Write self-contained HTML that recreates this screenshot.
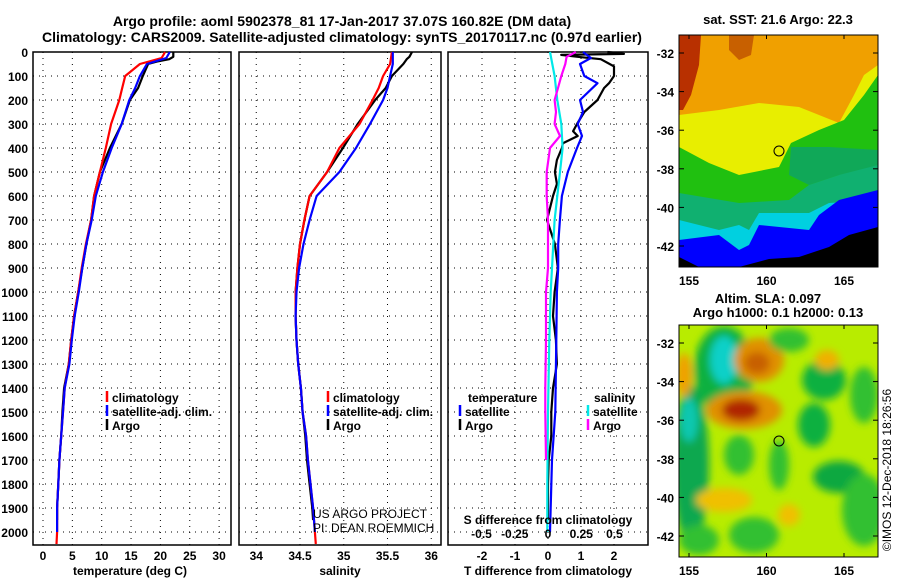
<!DOCTYPE html>
<html><head><meta charset="utf-8"><style>
html,body{margin:0;padding:0;background:#fff;}
svg{display:block;font-family:"Liberation Sans",Arial,sans-serif;}
.b{font-weight:bold;}
</style></head><body>
<svg id="c" width="900" height="580" viewBox="0 0 900 580">
<defs><filter id="bl" x="-50%" y="-50%" width="200%" height="200%"><feGaussianBlur stdDeviation="4"/></filter>
<clipPath id="m1c"><rect x="0" y="0" width="199" height="232"/></clipPath>
<clipPath id="m2c"><rect x="0" y="0" width="199" height="232"/></clipPath></defs>
<text class="b" x="342" y="26" font-size="14" text-anchor="middle">Argo profile: aoml 5902378_81 17-Jan-2017 37.07S 160.82E (DM data)</text>
<text class="b" x="342" y="42" font-size="14" text-anchor="middle">Climatology: CARS2009. Satellite-adjusted climatology: synTS_20170117.nc (0.97d earlier)</text>
<g id="p1"></g>
<g id="p2"></g>
<g id="p3"></g>
<g id="map1" transform="translate(679,35)">
 <g clip-path="url(#m1c)">
 <rect width="199" height="232" fill="#f0a000"/>
 <path d="M0,0 L22,0 L20,30 L12,60 L4,75 L0,75Z" fill="#b83000"/>
 <path d="M50,0 L75,0 L72,20 L60,25 L50,15Z" fill="#c86000"/>
 <path d="M0,80 L40,75 L80,68 L120,72 L160,88 L175,60 L185,40 L199,30 L199,232 L0,232Z" fill="#e8ee00"/>
 <path d="M0,112 L30,128 L60,140 L100,132 L112,108 L140,95 L165,85 L185,60 L199,40 L199,232 L0,232Z" fill="#20c010"/>
 <path d="M112,112 L150,112 L199,115 L199,140 L160,140 L130,150 L110,140Z" fill="#10a858"/>
 <path d="M0,158 L60,168 L110,165 L130,150 L160,140 L199,130 L199,232 L0,232Z" fill="#10b070"/>
 <path d="M0,185 L40,195 L60,190 L70,195 L80,178 L130,178 L150,168 L199,165 L199,232 L0,232Z" fill="#00d0e0"/>
 <path d="M0,205 L40,200 L60,215 L70,210 L80,190 L130,195 L140,180 L160,165 L199,155 L199,232 L0,232Z" fill="#0000ff"/>
 <path d="M0,222 L20,232 L60,232 L90,224 L120,222 L150,212 L170,200 L199,192 L199,232 L0,232Z" fill="#000"/>
 </g>
 <rect width="199" height="232" fill="none" stroke="#000" stroke-width="1"/>
 <circle cx="100" cy="116" r="5" fill="none" stroke="#000"/>
</g>
<g id="map2" transform="translate(679,325)">
 <g clip-path="url(#m2c)">
 <rect width="199" height="232" fill="#b8ec00"/>
 <g filter="url(#bl)">
 <ellipse cx="45" cy="45" rx="30" ry="44" fill="#10b040"/>
 <ellipse cx="45" cy="35" rx="14" ry="24" fill="#10d0c8"/>
 <ellipse cx="12" cy="140" rx="18" ry="80" fill="#10a850"/>
 <ellipse cx="10" cy="95" rx="9" ry="22" fill="#10c8b0"/>
 <ellipse cx="80" cy="35" rx="25" ry="22" fill="#e09000"/>
 <ellipse cx="78" cy="38" rx="13" ry="11" fill="#c86000"/>
 <ellipse cx="65" cy="85" rx="38" ry="19" fill="#e09000"/>
 <ellipse cx="62" cy="85" rx="19" ry="11" fill="#b02800"/>
 <ellipse cx="145" cy="55" rx="22" ry="20" fill="#10b040"/>
 <ellipse cx="135" cy="100" rx="16" ry="22" fill="#10b040"/>
 <ellipse cx="160" cy="152" rx="26" ry="16" fill="#10a840"/>
 <ellipse cx="100" cy="140" rx="10" ry="25" fill="#30c030"/>
 <ellipse cx="60" cy="130" rx="15" ry="20" fill="#30c030"/>
 <ellipse cx="148" cy="35" rx="12" ry="10" fill="#f0b000"/>
 <ellipse cx="45" cy="175" rx="28" ry="12" fill="#f0c000"/>
 <ellipse cx="110" cy="190" rx="11" ry="11" fill="#f0c000"/>
 <ellipse cx="75" cy="210" rx="25" ry="18" fill="#30c030"/>
 <ellipse cx="20" cy="215" rx="20" ry="15" fill="#30c030"/>
 <ellipse cx="185" cy="185" rx="22" ry="36" fill="#30c030"/>
 <ellipse cx="5" cy="50" rx="8" ry="22" fill="#f0a000"/>
 <ellipse cx="185" cy="70" rx="14" ry="28" fill="#30c030"/>
 <ellipse cx="110" cy="15" rx="20" ry="12" fill="#30c030"/>
 </g></g>
 <rect width="199" height="232" fill="none" stroke="#000" stroke-width="1"/>
 <circle cx="100" cy="116" r="5" fill="none" stroke="#000"/>
</g>
<text class="b" x="778" y="24" font-size="13" text-anchor="middle">sat. SST: 21.6 Argo: 22.3</text>
<text class="b" x="768" y="303" font-size="13" text-anchor="middle">Altim. SLA: 0.097</text>
<text class="b" x="778" y="317" font-size="13" text-anchor="middle">Argo h1000: 0.1 h2000: 0.13</text>
<text x="891" y="470" font-size="12" text-anchor="middle" transform="rotate(-90 891 470)">©IMOS 12-Dec-2018 18:26:56</text>
<text x="313" y="518" font-size="12">US ARGO PROJECT</text>
<text x="313" y="532" font-size="12">PI: DEAN ROEMMICH</text>
</svg>
<script>
// temperature profiles
const depthClim = [0,25,50,100,150,200,300,400,500,600,700,800,900,1000,1100,1200,1300,1400,1500,1600,1700,1800,1900,2000,2050];
const climT = [20.8,20.2,16.5,14,13.5,13,11.6,10.7,9.7,8.7,8.2,7.3,6.6,6,5.3,4.8,4.4,3.7,3.4,3.1,2.8,2.6,2.4,2.4,2.3];
const satT = [21.6,21,17.7,16.5,15.7,14.7,13.4,11.7,10.2,9,8.3,7.4,6.7,6.1,5.4,4.9,4.5,3.7,3.4,3.1,2.8,2.6,2.4,2.4];
const depthArgo = [0,20,30,40,50,100,150,200,300,400,500,600,700,800,900,1000,1100,1200,1300,1400,1500,1600,1700,1800,1900,1950];
const argoT = [22.2,22.2,21.5,19.4,17.9,17,16.2,14.8,13.4,11.4,9.7,8.7,8.2,7.4,6.7,6,5.3,4.8,4.4,3.6,3.3,3.1,2.8,2.6,2.4,2.4];
// salinity profiles
const climS = [35.55,35.54,35.53,35.45,35.4,35.33,35.18,34.95,34.81,34.61,34.55,34.5,34.47,34.45,34.45,34.46,34.48,34.51,34.53,34.57,34.59,34.62,34.65,34.67,34.68];
const satS = [35.56,35.56,35.56,35.53,35.5,35.45,35.3,35.14,34.95,34.69,34.61,34.54,34.49,34.46,34.45,34.46,34.48,34.51,34.53,34.57,34.59,34.62,34.65,34.67];
const argoS = [35.78,35.75,35.72,35.7,35.68,35.55,35.48,35.36,35.16,34.99,34.81,34.61,34.55,34.5,34.47,34.45,34.45,34.46,34.48,34.51,34.53,34.56,34.58,34.61,34.64,34.65];
// differences
const depthArgoTd = [0,8,12,20,30,60,100,130,150,200,250,300,330,350,380,400,450,500,550,600,700,800,900,1000,1100,1200,1300,1400,1500,1600,1700,1800,1900,1950];
const argoTd = [1.8,2.3,0.4,0.9,1.6,2.0,2.0,1.85,1.7,1.5,1.1,0.88,0.76,0.9,0.45,0.42,0.27,0.21,0.27,0.15,-0.03,0.21,0.3,0.2,0.15,0.24,0.27,0.15,0.1,0.1,0.02,0,0,0];
const depthSatTd = [0,25,50,100,130,200,250,300,350,400,500,600,700,800,900,1000,1200,1500,1700,2000];
const satTd = [1.06,1.3,0.97,1.1,1.5,0.97,1.06,0.9,1.03,0.88,0.6,0.42,0.36,0.31,0.31,0.27,0.25,0.22,0.12,0.06];
const depthSatSd = [0,100,200,300,400,500,600,700,800,900,1000,1200,1500,1800,2000];
const satSd = [0.015,0.05,0.07,0.1,0.11,0.09,0.07,0.05,0.04,0.03,0.02,0.01,0,-0.005,-0.005];
const depthArgoSd = [0,20,50,100,150,200,250,300,350,400,500,600,700,800,900,1000,1200,1400,1500,1700];
const argoSd = [0.21,0.14,0.13,0.1,0.075,0.05,0.06,0.05,0.09,0.015,-0.01,-0.01,0,0,0,-0.015,-0.015,-0.02,-0.02,-0.015];
// ticks
const depthTicks = [0,100,200,300,400,500,600,700,800,900,1000,1100,1200,1300,1400,1500,1600,1700,1800,1900,2000];
const tTicks = [0,5,10,15,20,25,30];
const sTicks = ["34","34.5","35","35.5","36"];
const dTTicks = [-2,-1,0,1,2];
const dSTicks = ["-0.5","-0.25","0","0.25","0.5"];
const latTicks = [-32,-34,-36,-38,-40,-42];
const lonTicks = [155,160,165];

const NS="http://www.w3.org/2000/svg";
const svg=document.getElementById('c');
function mk(parent,tag,attrs){const e=document.createElementNS(NS,tag);for(const k in attrs)e.setAttribute(k,attrs[k]);parent.appendChild(e);return e;}
const TOP=52,BOT=545;
const y=d=>TOP+d*0.24;
const xT=v=>43+v*5.87;
const xS=v=>300+(v-34.5)*87.5;
const xDT=v=>548+v*33;
const xDS=v=>548+v*133;

function frame(g,L,R,name){
  depthTicks.forEach(d=>{
    const l=mk(g,'line',{x1:L,x2:R,y1:y(d),y2:y(d),stroke:'#000','stroke-dasharray':'1,5','stroke-width':1});
    
    
  });
  const r=mk(g,'rect',{x:L,y:TOP,width:R-L,height:BOT-TOP,fill:'none',stroke:'#000','stroke-width':1.5});
  
  
}
function vgrid(g,x,name){
  const l=mk(g,'line',{x1:x,x2:x,y1:TOP,y2:BOT,stroke:'#000','stroke-dasharray':'1,5','stroke-width':1});
  
  
}
function label(g,x,yy,txt,anchor,size,name,bold=true){
  const t=mk(g,'text',{x:x,y:yy,'font-size':size,'text-anchor':anchor});
  if(bold)t.setAttribute('font-weight','bold');
  t.textContent=txt;
  
  
  return t;
}
function line(g,xs,ds,fx,color,name){
  const pts=xs.map((v,i)=>fx(v).toFixed(1)+','+y(ds[i]).toFixed(1)).join(' ');
  const p=mk(g,'polyline',{points:pts,fill:'none',stroke:color,'stroke-width':2.2,'stroke-linejoin':'round'});
  
  
}
function legend(g,x,yy,color,txt,name){
  const l=mk(g,'line',{x1:x,x2:x,y1:yy-11,y2:yy,stroke:color,'stroke-width':2.5});
  
  
  label(g,x+5,yy,txt,'start',12,name+'-label');
}

// panel 1
const p1=document.getElementById('p1');
tTicks.forEach(v=>{vgrid(p1,xT(v),'temperature');label(p1,xT(v),560,String(v),'middle',12,'temperature-tick');});
frame(p1,33,231,'temperature');
depthTicks.forEach(d=>label(p1,28,y(d)+5,String(d),'end',12,'depth-tick'));
label(p1,130,575,'temperature (deg C)','middle',12,'temperature-axis-title');
line(p1,argoT,depthArgo,xT,'#000','argo-temperature-line');
line(p1,climT,depthClim,xT,'#f00','clim-temperature-line');
line(p1,satT,depthClim,xT,'#00f','satellite-temperature-line');
legend(p1,107,402,'#f00','climatology','legend-climatology');
legend(p1,107,416,'#00f','satellite-adj. clim.','legend-satellite');
legend(p1,107,430,'#000','Argo','legend-argo');

// panel 2
const p2=document.getElementById('p2');
sTicks.forEach(v=>{vgrid(p2,xS(+v),'salinity');label(p2,xS(+v),560,v,'middle',12,'salinity-tick');});
frame(p2,239,441,'salinity');
label(p2,340,575,'salinity','middle',12,'salinity-axis-title');
line(p2,argoS,depthArgo,xS,'#000','argo-salinity-line');
line(p2,climS,depthClim,xS,'#f00','clim-salinity-line');
line(p2,satS,depthClim,xS,'#00f','satellite-salinity-line');
legend(p2,328,402,'#f00','climatology','legend-climatology-2');
legend(p2,328,416,'#00f','satellite-adj. clim.','legend-satellite-2');
legend(p2,328,430,'#000','Argo','legend-argo-2');

// panel 3
const p3=document.getElementById('p3');
dTTicks.forEach(v=>{vgrid(p3,xDT(v),'difference');label(p3,xDT(v),560,String(v),'middle',12,'t-diff-tick');});
frame(p3,448,648,'difference');
line(p3,argoTd,depthArgoTd,xDT,'#000','argo-t-diff-line');
line(p3,satTd,depthSatTd,xDT,'#00f','satellite-t-diff-line');
line(p3,satSd,depthSatSd,xDS,'#00e8e8','satellite-s-diff-line');
line(p3,argoSd,depthArgoSd,xDS,'#f0f','argo-s-diff-line');
label(p3,548,575,'T difference from climatology','middle',12,'t-diff-axis-title');
label(p3,548,524,'S difference from climatology','middle',12,'s-diff-axis-title');
dSTicks.forEach(v=>label(p3,xDS(+v),538,v,'middle',12,'s-diff-tick'));
label(p3,468,402,'temperature','start',12,'legend-temperature-heading');
legend(p3,460,416,'#00f','satellite','legend-t-satellite');
legend(p3,460,430,'#000','Argo','legend-t-argo');
label(p3,594,402,'salinity','start',12,'legend-salinity-heading');
legend(p3,588,416,'#00e8e8','satellite','legend-s-satellite');
legend(p3,588,430,'#f0f','Argo','legend-s-argo');

// map axes
[[35,'sst'],[325,'sla']].forEach(([oy,nm])=>{
  const g=mk(svg,'g',{});
  
  
  latTicks.forEach(v=>{
    const yy=oy+18+(-32-v)*19.3;
    mk(g,'line',{x1:679,x2:684,y1:yy,y2:yy,stroke:'#000'});
    mk(g,'line',{x1:873,x2:878,y1:yy,y2:yy,stroke:'#000'});
    label(g,674,yy+5,String(v),'end',12,nm+'-lat-tick');
  });
  lonTicks.forEach(v=>{
    const xx=689+(v-155)*15.5;
    mk(g,'line',{x1:xx,x2:xx,y1:oy,y2:oy+4,stroke:'#000'});
    mk(g,'line',{x1:xx,x2:xx,y1:oy+228,y2:oy+232,stroke:'#000'});
    label(g,xx,oy+250,String(v),'middle',12,nm+'-lon-tick');
  });
});
</script>
</body></html>
